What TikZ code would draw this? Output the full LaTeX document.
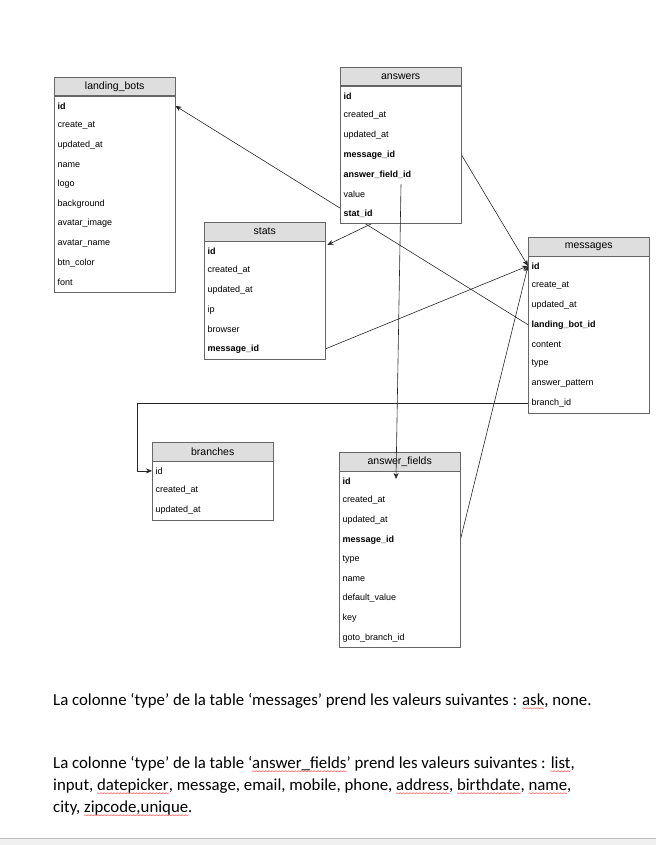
\documentclass[tikz,border=0pt]{standalone}
\usepackage{fontspec}
\setmainfont{Carlito}
\newfontfamily\tblfont{Liberation Sans}
\newfontfamily\wavefont{DejaVu Sans}
\usepackage{tikz}
\usetikzlibrary{calc,arrows.meta,backgrounds}

\definecolor{hdrgray}{HTML}{DEDEDE}
\definecolor{frmgray}{HTML}{666666}

% red spell-check squiggle under a word
\newcommand{\redwave}[1]{\setbox0=\hbox{#1}\rlap{\raisebox{-5.5pt}{\hbox to \wd0{\color{red}\wavefont\fontsize{6}{6}\selectfont\xleaders\hbox{\kern-0.9pt\char"7E\kern-0.9pt}\hfill}}}\box0}

\tikzset{
  hdr/.style={draw=frmgray, fill=hdrgray, anchor=north west, minimum width=121pt,
    minimum height=18.5pt, inner sep=0pt, font=\tblfont\fontsize{10.5}{12}\selectfont},
  fld/.style={fill=white, anchor=north west, minimum height=19.6pt, inner sep=0pt,
    inner xsep=3.5pt, text width=114pt, align=left, font=\tblfont\fontsize{9}{10}\selectfont},
  frm/.style={draw=frmgray, line width=0.7pt},
  conn/.style={draw=black!85, line width=0.6pt, -{Stealth[length=6pt,width=5pt]}},
  note/.style={inner sep=0pt, font=\fontsize{16.8}{22}\selectfont},
}

\begin{document}
\begin{tikzpicture}[x=1pt,y=-1pt]
  \useasboundingbox (0,0) rectangle (656,845);

  % tables
  \node[hdr] (lb) at (54,77) {landing\_bots};
  \foreach \f [count=\i] in {\textbf{id}, create\_at, updated\_at, name, logo, background,
      avatar\_image, avatar\_name, btn\_color, font}
    \node[fld] (lb\i) at ($(lb.south west)+(0,{(\i-1)*19.6})$) {\f};
  \draw[frm] (lb.south west) rectangle (lb10.south east);

  \node[hdr] (an) at (340,67) {answers};
  \foreach \f [count=\i] in {\textbf{id}, created\_at, updated\_at, \textbf{message\_id},
      \textbf{answer\_field\_id}, value, \textbf{stat\_id}}
    \node[fld] (an\i) at ($(an.south west)+(0,{(\i-1)*19.6})$) {\f};
  \draw[frm] (an.south west) rectangle (an7.south east);

  \node[hdr] (st) at (204,222) {stats};
  \foreach \f [count=\i] in {\textbf{id}, created\_at, updated\_at, ip, browser,
      \textbf{message\_id}}
    \node[fld] (st\i) at ($(st.south west)+(0,{(\i-1)*19.6})$) {\f};
  \draw[frm] (st.south west) rectangle (st6.south east);

  \node[hdr] (ms) at (528,237) {messages};
  \foreach \f [count=\i] in {\textbf{id}, create\_at, updated\_at, \textbf{landing\_bot\_id},
      content, type, answer\_pattern, branch\_id}
    \node[fld] (ms\i) at ($(ms.south west)+(0,{(\i-1)*19.6})$) {\f};
  \draw[frm] (ms.south west) rectangle (ms8.south east);

  \node[hdr] (br) at (152,442) {branches};
  \foreach \f [count=\i] in {id, created\_at, updated\_at}
    \node[fld] (br\i) at ($(br.south west)+(0,{(\i-1)*19.6})$) {\f};
  \draw[frm] (br.south west) rectangle (br3.south east);

  \node[hdr] (af) at (339,452) {answer\_fields};
  \foreach \f [count=\i] in {\textbf{id}, created\_at, updated\_at, \textbf{message\_id},
      type, name, default\_value, key, goto\_branch\_id}
    \node[fld] (af\i) at ($(af.south west)+(0,{(\i-1)*19.6})$) {\f};
  \draw[frm] (af.south west) rectangle (af9.south east);

  % links behind the tables
  \begin{pgfonlayer}{background}
    \draw[conn] (ms4.west) -- (lb1.east);
    \draw[conn] (an4.east) -- (ms1.west);
    \draw[conn] ($(an7.south west)+(32,0)$) -- ($(st1.north east)+(2,4)$);
    \draw[conn] (st6.east) -- (ms1.west);
    \draw[conn] (af4.east) -- (ms1.west);
    \draw[conn] (ms8.west) -| ($(br1.west)+(-15,0)$) -- (br1.west);
  \end{pgfonlayer}
  \draw[conn] ($(an5.south west)+(61,0)$) -- ($(af1.west)+(57,-2)$);

  % notes
  \node[note, anchor=base west] (n1) at (53,705)
    {La colonne ‘type’ de la table ‘messages’ prend les valeurs suivantes : \redwave{ask}, none.};
  \node[note, anchor=base west, align=left] (n2) at (53,812)
    {La colonne ‘type’ de la table ‘\redwave{answer\_fields}’ prend les valeurs suivantes : \redwave{list},\\
     input, \redwave{datepicker}, message, email, mobile, phone, \redwave{address}, \redwave{birthdate}, \redwave{name},\\
     city, \redwave{zipcode,unique}.};

  % page edge
  \fill[black!6] (0,838) rectangle (656,845);
  \draw[black!25] (0,838) -- (656,838);
\end{tikzpicture}
\end{document}
